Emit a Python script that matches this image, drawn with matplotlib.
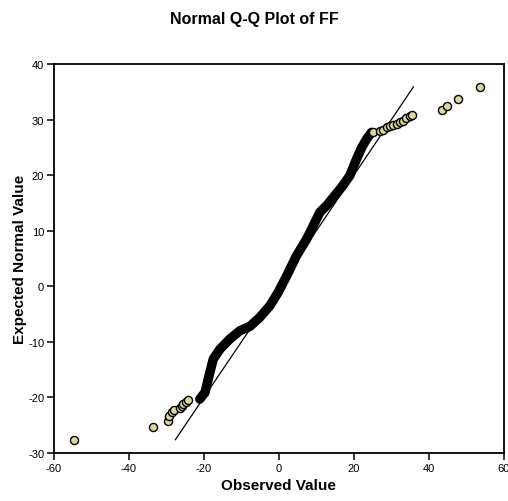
import matplotlib
matplotlib.use("Agg")
import matplotlib.pyplot as plt

plt.rcParams['font.family'] = ['Liberation Sans', 'DejaVu Sans']
plt.rcParams['axes.unicode_minus'] = False

# dense part of the Q-Q curve (observed, expected), read along the black band
dense_obs = [-21.1, -19.7, -18.4, -17.5, -15.7, -13.1, -10.4, -7.7, -5.1, -2.4, -0.2,
             2.1, 4.7, 7.4, 9.6, 10.9, 12.7, 14.5, 16.7, 18.9, 20.7, 22.1, 23.4, 24.7]
dense_exp = [-20.3, -19.1, -15.5, -13.1, -11.3, -9.5, -8.0, -7.2, -5.6, -3.5, -1.1,
             1.9, 5.5, 8.5, 11.5, 13.3, 14.5, 16.0, 17.8, 19.9, 22.9, 25.0, 26.5, 27.7]

# separate points in the tails
tail_obs = [-54.6, -33.5, -29.5, -29.2, -28.6, -28.0, -26.4, -25.9, -25.5, -24.8, -24.2,
            25.2, 26.9, 27.8, 28.7, 29.6, 30.5, 31.4, 32.3, 33.1, 34.0, 34.9, 35.6,
            43.4, 44.7, 47.8, 53.6]
tail_exp = [-27.7, -25.4, -24.2, -23.4, -22.7, -22.3, -21.9, -21.5, -21.2, -20.8, -20.4,
            27.7, 28.0, 28.2, 28.6, 28.8, 29.0, 29.2, 29.5, 29.8, 30.3, 30.6, 30.8,
            31.8, 32.5, 33.7, 35.9]

# reference line y = x
line_ends = [-27.6, 35.9]

fig = plt.figure(figsize=[5.08, 5.02], dpi=100)
ax = fig.add_axes([0.106, 0.0956, 0.886, 0.775])

ax.plot(line_ends, line_ends, color='black', lw=0.9, zorder=2)
ax.plot(dense_obs, dense_exp, color='black', lw=6.8, solid_capstyle='round',
        solid_joinstyle='round', zorder=3)
ax.scatter(tail_obs, tail_exp, s=34, facecolor='#DCD6A0', edgecolor='black',
           linewidths=1.0, zorder=4)

ax.set_xlim(-60, 60)
ax.set_ylim(-30, 40)
ax.set_xticks([-60, -40, -20, 0, 20, 40, 60])
ax.set_yticks([-30, -20, -10, 0, 10, 20, 30, 40])

for s in ax.spines.values():
    s.set_linewidth(1.3)
ax.tick_params(direction='out', length=5, width=1.1, labelsize=8, pad=2)

ax.set_xlabel('Observed Value', fontsize=11, fontweight='bold', labelpad=4)
ax.set_ylabel('Expected Normal Value', fontsize=11, fontweight='bold', labelpad=1)

fig.suptitle('Normal Q-Q Plot of FF', fontsize=11.5, fontweight='bold', x=0.5, y=0.977)

fig.savefig('out.png', dpi=100)
